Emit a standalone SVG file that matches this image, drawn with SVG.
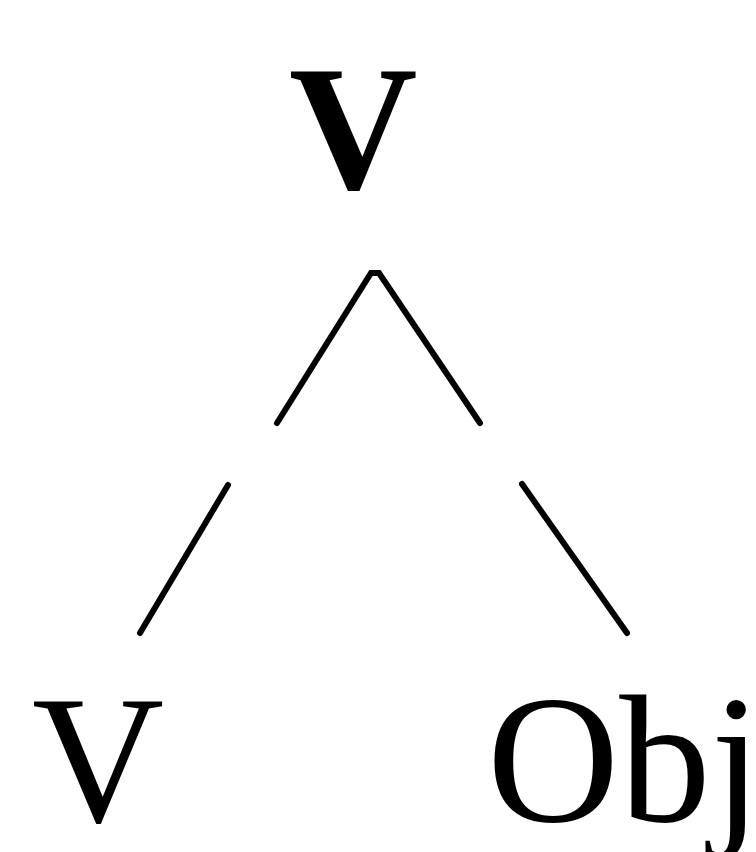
<svg xmlns="http://www.w3.org/2000/svg" width="756" height="852" viewBox="0 0 756 852">
<style>
.lbl{font-family:"Liberation Serif","Times New Roman",serif;fill:#000}
.edge{stroke:#000;stroke-width:6;fill:none;stroke-linecap:round}
</style>
<rect width="756" height="852" fill="#fff"/>
<g id="node-root"><text class="lbl" x="289" y="188" font-size="178" font-weight="bold">V</text></g>
<g id="node-v"><text class="lbl" x="32" y="821" font-size="183">V</text></g>
<g id="node-obj"><text class="lbl" x="487" y="821" font-size="183">Obj</text></g>
<g id="connectors">
<path class="edge" d="M277,423 L371,273 L379,273 L480,423"/>
<line class="edge" x1="228" y1="485" x2="140" y2="633"/>
<line class="edge" x1="522" y1="484" x2="627" y2="633"/>
</g>
</svg>
